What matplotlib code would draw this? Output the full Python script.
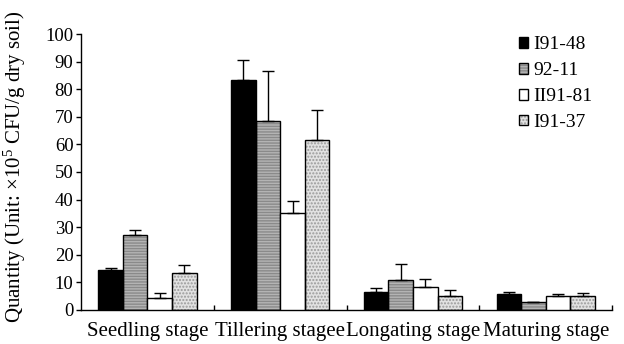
import numpy as np
import matplotlib
matplotlib.use('Agg')
import matplotlib.pyplot as plt
from matplotlib.patches import Patch

plt.rcParams['font.family'] = ['Liberation Serif', 'DejaVu Serif']
plt.rcParams['mathtext.fontset'] = 'custom'
plt.rcParams['mathtext.rm'] = 'Liberation Serif'
plt.rcParams['mathtext.it'] = 'Liberation Serif:italic'

stages = ['Seedling stage', 'Tillering stagee', 'Longating stage', 'Maturing stage']
cultivars = ['I91-48', '92-11', 'II91-81', 'I91-37']

# means and (upper) errors, per cultivar over the four stages
means = {
    'I91-48':  [14.5, 83.5, 6.6, 5.8],
    '92-11':   [27.2, 68.5, 10.9, 2.7],
    'II91-81': [4.3, 35.0, 8.2, 5.1],
    'I91-37':  [13.5, 61.5, 5.2, 5.2],
}
errs = {
    'I91-48':  [0.8, 7.0, 1.2, 0.7],
    '92-11':   [1.8, 18.0, 5.8, 0.3],
    'II91-81': [1.7, 4.5, 3.1, 0.6],
    'I91-37':  [2.7, 11.0, 2.2, 0.9],
}

styles = {
    'I91-48':  dict(face='black', hatch=None, hcol=None),
    '92-11':   dict(face='#b4b4b4', hatch='------', hcol='#8a8a8a'),
    'II91-81': dict(face='white', hatch=None, hcol=None),
    'I91-37':  dict(face='#e2e2e2', hatch='.....', hcol='#9a9a9a'),
}

fig = plt.figure(figsize=(6.24, 3.44), dpi=100)
ax = fig.add_axes([0.13, 0.099, 0.851, 0.802])

x = np.arange(len(stages))
w = 0.185
handles = []
for i, c in enumerate(cultivars):
    pos = x + (i - 1.5) * w
    st = styles[c]
    if st['hatch']:
        ax.bar(pos, means[c], w, color=st['face'], edgecolor=st['hcol'],
               hatch=st['hatch'], linewidth=0, zorder=2)
        ax.bar(pos, means[c], w, color='none', edgecolor='black',
               linewidth=1.0, zorder=3)
        h = (Patch(facecolor=st['face'], edgecolor=st['hcol'], hatch=st['hatch'], linewidth=0),
             Patch(facecolor='none', edgecolor='black', linewidth=1.0))
    else:
        ax.bar(pos, means[c], w, color=st['face'], edgecolor='black',
               linewidth=1.0, zorder=3)
        h = Patch(facecolor=st['face'], edgecolor='black', linewidth=1.0)
    handles.append(h)
    ax.errorbar(pos, means[c], yerr=[np.zeros(4), errs[c]], fmt='none',
                ecolor='black', elinewidth=1.0, capsize=4, capthick=1.0, zorder=4)

ax.set_xlim(-0.5, 3.5)
ax.set_ylim(0, 100)
ax.set_yticks(np.arange(0, 101, 10))
ax.set_xticks(x)
ax.set_xticklabels(stages, fontsize=15)
ax.set_xticks([0.5, 1.5, 2.5, 3.5], minor=True)
ax.tick_params(axis='x', which='major', length=0, pad=9)
ax.tick_params(axis='x', which='minor', direction='in', length=3.5, width=1)
ax.tick_params(axis='y', direction='out', length=3.5, width=1, labelsize=13.5, pad=2)

for s in ['top', 'right']:
    ax.spines[s].set_visible(False)
for s in ['left', 'bottom']:
    ax.spines[s].set_linewidth(1.0)

ax.set_ylabel(r'Quantity (Unit: $\times$10$^5$ CFU/g dry soil)', fontsize=15)
ax.yaxis.set_label_coords(-0.10, 0.52)

ax.legend(handles, cultivars, loc='upper left', bbox_to_anchor=(0.81, 1.02),
          frameon=False, fontsize=14, handlelength=0.45, handleheight=0.45,
          handletextpad=0.3, labelspacing=0.46, borderaxespad=0)

fig.savefig('out.png', dpi=100)
